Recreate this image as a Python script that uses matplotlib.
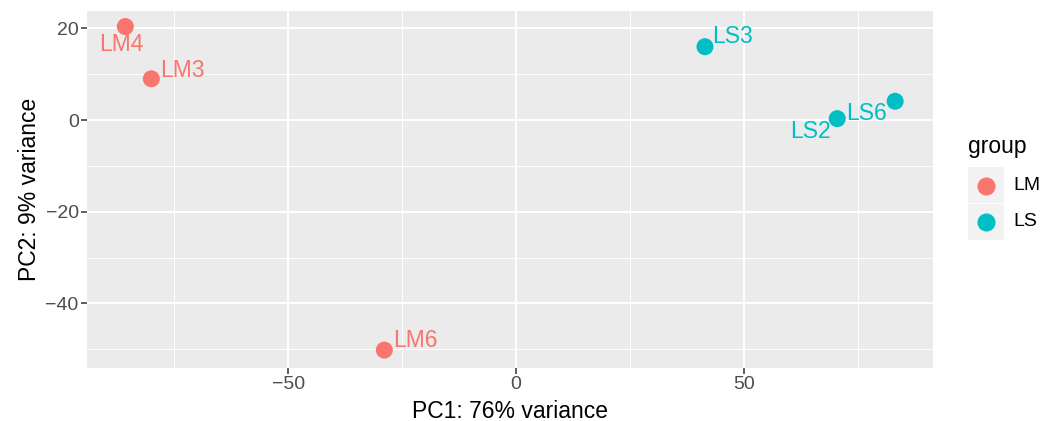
import numpy as np
import matplotlib
matplotlib.use("Agg")
from matplotlib import pyplot as plt
from matplotlib.patches import Rectangle

plt.rcParams['font.family'] = ['Liberation Sans', 'DejaVu Sans']

# PCA coordinates.
samples = ["LM4", "LM3", "LM6", "LS3", "LS2", "LS6"]
groups  = ["LM", "LM", "LM", "LS", "LS", "LS"]
pc1     = [-85.7, -80.0, -28.9, 41.4, 70.4, 83.1]
pc2     = [20.4, 9.0, -50.2, 16.0, 0.3, 4.1]

# Label offsets in points (text placement, like ggrepel).
label_dx = [-3, 6, 6, 5, -5, -6]
label_dy = [-13, 6, 7, 7, -9, -9]
label_ha = ["center", "left", "left", "left", "right", "right"]

group_names  = ["LM", "LS"]
group_colors = {"LM": "#F8766D", "LS": "#00BFC4"}

fig = plt.figure(figsize=(10.61, 4.21), dpi=100)
W, H = 1061, 421
ax = fig.add_axes([87 / W, 1 - 367.5 / H, (933 - 87) / W, (367.5 - 10.5) / H])

ax.set_facecolor("#EBEBEB")
for s in ax.spines.values():
    s.set_visible(False)

ax.set_xlim(-94.1, 91.4)
ax.set_ylim(-54.0, 23.9)
ax.set_xticks([-50, 0, 50])
ax.set_xticklabels(["\u221250", "0", "50"])
ax.set_yticks([-40, -20, 0, 20])
ax.set_yticklabels(["\u221240", "\u221220", "0", "20"])
ax.set_xticks([-75, -25, 25, 75], minor=True)
ax.set_yticks([-50, -30, -10, 10], minor=True)
ax.grid(which="major", color="white", linewidth=1.4)
ax.grid(which="minor", color="white", linewidth=0.7)
ax.set_axisbelow(True)
ax.tick_params(which="major", length=4, width=1.1, color="#333333",
               labelsize=14, labelcolor="#4D4D4D", pad=2)
ax.tick_params(which="minor", length=0)

ax.set_xlabel("PC1: 76% variance", fontsize=16.5, labelpad=5)
ax.set_ylabel("PC2: 9% variance", fontsize=16.5, labelpad=3)

for i, name in enumerate(samples):
    col = group_colors[groups[i]]
    ax.scatter(pc1[i], pc2[i], s=150, color=col, edgecolors="none", zorder=3)
    ax.annotate(name, (pc1[i], pc2[i]), xytext=(label_dx[i], label_dy[i]),
                textcoords="offset points", ha=label_ha[i], va="center",
                fontsize=16.5, color=col, zorder=4)

# Legend drawn in figure pixels to mimic ggplot's layout.
fig.text(968 / W, 1 - 147 / H, "group", fontsize=16.5, va="center", ha="left")
for k, g in enumerate(group_names):
    y0 = 167 + 36.5 * k
    fig.patches.append(Rectangle((968 / W, 1 - (y0 + 36.5) / H), 36 / W, 36.5 / H,
                                 transform=fig.transFigure, facecolor="#F2F2F2",
                                 edgecolor="none"))
    fig.add_artist(plt.Line2D([986 / W], [1 - (y0 + 18.5) / H], marker="o",
                              markersize=12, color=group_colors[g],
                              linestyle="none", transform=fig.transFigure))
    fig.text(1013 / W, 1 - (y0 + 18.5) / H, g, fontsize=14, va="center", ha="left")

fig.savefig("out.png", dpi=100)
